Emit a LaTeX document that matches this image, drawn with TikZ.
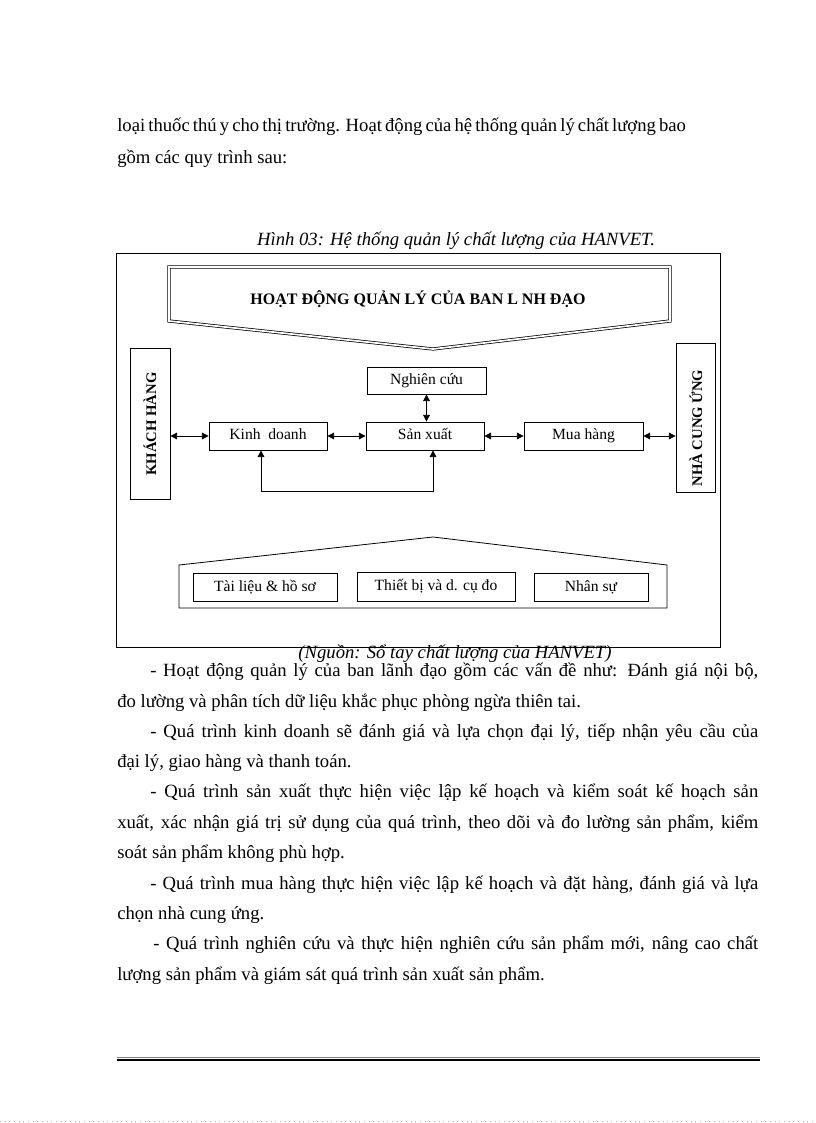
\documentclass[tikz,border=0pt]{standalone}
\usepackage{fontspec}
\setmainfont{Liberation Serif}
\usetikzlibrary{arrows.meta}
\begin{document}
\begin{tikzpicture}[x=0.75pt,y=-0.75pt,
  bodytext/.style={anchor=base west, inner sep=0, font=\fontsize{14}{16}\selectfont},
  captext/.style={anchor=base, inner sep=0, font=\itshape\fontsize{14}{16}\selectfont},
  boxnode/.style={draw, line width=0.6pt, inner sep=0, font=\fontsize{11.7}{14}\selectfont},
  midbox/.style={boxnode, text height=8pt, text depth=2.5pt},
  sidebox/.style={draw, line width=0.6pt, inner sep=0},
  sidetext/.style={rotate=90, inner sep=0, font=\bfseries\fontsize{11}{13}\selectfont},
  dbl/.style={{Triangle[length=5pt,width=5pt]}-{Triangle[length=5pt,width=5pt]}, line width=0.6pt},
  frameline/.style={line width=0.6pt},
  arrowshape/.style={double, double distance=1.3pt, line width=0.55pt, line join=miter},
  houseshape/.style={line width=0.6pt, line join=miter}
]
\useasboundingbox (0,0) rectangle (816,1123);
\fill[white] (0,0) rectangle (816,1123);

% ---- text above figure
\node[bodytext] (t1) at (117,132) {\makebox[360.75pt][s]{loại thuốc thú y cho thị trường. Hoạt động của hệ thống quản lý chất lượng bao}};
\node[bodytext] (t2) at (117,164) {gồm các quy trình sau:};

% ---- caption
\node[captext] (cap) at (456,245) {Hình 03: Hệ thống quản lý chất lượng của HANVET.};

% ---- frame
\draw[frameline] (116,253) rectangle (720,647);

% ---- top arrow shape
\draw[arrowshape] (169,267) -- (670,267) -- (670,321) -- (433,349) -- (169,321) -- cycle;
\node[inner sep=0, font=\bfseries\fontsize{12}{14}\selectfont] (title) at (418,299) {HOẠT ĐỘNG QUẢN LÝ CỦA BAN L NH ĐẠO};

% ---- side boxes
\node[sidebox, minimum width=30pt, minimum height=113.25pt] (kh) at (150,423.5) {};
\node[sidetext] (khtxt) at (150,424) {KHÁCH HÀNG};
\node[sidebox, minimum width=29.25pt, minimum height=111.75pt] (ncu) at (695.5,417.5) {};
\node[sidetext] (ncutxt) at (696,428) {NHÀ CUNG ỨNG};

% ---- middle boxes
\node[midbox, minimum width=89.25pt, minimum height=20.25pt] (nc) at (426.5,380.5) {Nghiên cứu};
\node[midbox, minimum width=88.5pt, minimum height=21pt] (kd) at (268,436) {Kinh\ \ doanh};
\node[midbox, minimum width=88.5pt, minimum height=21pt] (sx) at (425,436) {Sản xuất};
\node[midbox, minimum width=89.25pt, minimum height=21pt] (mh) at (583.5,436) {Mua hàng};

% ---- connectors
\draw[dbl] (kh.east |- kd) -- (kd.west);
\draw[dbl] (kd.east) -- (sx.west);
\draw[dbl] (sx.east) -- (mh.west);
\draw[dbl] (mh.east) -- (ncu.west |- mh);
\draw[dbl] (nc.south) -- (nc.south |- sx.north);
\coordinate (l1) at (261,491);
\coordinate (l2) at (433,491);
\draw[dbl] (kd.south -| l1) -- (l1) -- (l2) -- (sx.south -| l2);

% ---- bottom house shape
\draw[houseshape] (179,608) -- (179,565) -- (433,537) -- (667,565) -- (667,608) -- cycle;
\node[boxnode, minimum width=108pt, minimum height=21pt] (tl) at (265,587) {Tài liệu \& hồ sơ};
\node[boxnode, minimum width=118.5pt, minimum height=21.75pt] (tb) at (436,586.5) {Thiết bị và d. cụ đo};
\node[boxnode, minimum width=85.5pt, minimum height=21pt] (ns) at (591,587) {Nhân sự};

% ---- source
\node[captext] (src) at (455,658) {(Nguồn: Sổ tay chất lượng của HANVET)};

% ---- paragraphs
\node[bodytext] (p1a) at (150,676) {\makebox[456pt][s]{- Hoạt động quản lý của ban lãnh đạo gồm các vấn đề như: Đánh giá nội bộ,}};
\node[bodytext] (p1b) at (117,707) {đo lường và phân tích dữ liệu khắc phục phòng ngừa thiên tai.};
\node[bodytext] (p2a) at (150,737) {\makebox[456pt][s]{- Quá trình kinh doanh sẽ đánh giá và lựa chọn đại lý, tiếp nhận yêu cầu của}};
\node[bodytext] (p2b) at (117,767) {đại lý, giao hàng và thanh toán.};
\node[bodytext] (p3a) at (150,797) {\makebox[456pt][s]{- Quá trình sản xuất thực hiện việc lập kế hoạch và kiểm soát kế hoạch sản}};
\node[bodytext] (p3b) at (117,828) {\makebox[480.75pt][s]{xuất, xác nhận giá trị sử dụng của quá trình, theo dõi và đo lường sản phẩm, kiểm}};
\node[bodytext] (p3c) at (117,858) {soát sản phẩm không phù hợp.};
\node[bodytext] (p4a) at (150,889) {\makebox[456pt][s]{- Quá trình mua hàng thực hiện việc lập kế hoạch và đặt hàng, đánh giá và lựa}};
\node[bodytext] (p4b) at (117,919) {chọn nhà cung ứng.};
\node[bodytext] (p5a) at (153,949) {\makebox[453.75pt][s]{- Quá trình nghiên cứu và thực hiện nghiên cứu sản phẩm mới, nâng cao chất}};
\node[bodytext] (p5b) at (117,980) {lượng sản phẩm và giám sát quá trình sản xuất sản phẩm.};

% ---- footer rules
\draw[line width=0.5pt, gray] (117,1057) -- (760,1057);
\draw[line width=1.8pt, black] (117,1060) -- (760,1060);
\draw[line width=0.5pt, gray!60, dash pattern=on 0.5pt off 3pt] (0,1121) -- (816,1121);
\end{tikzpicture}
\end{document}
